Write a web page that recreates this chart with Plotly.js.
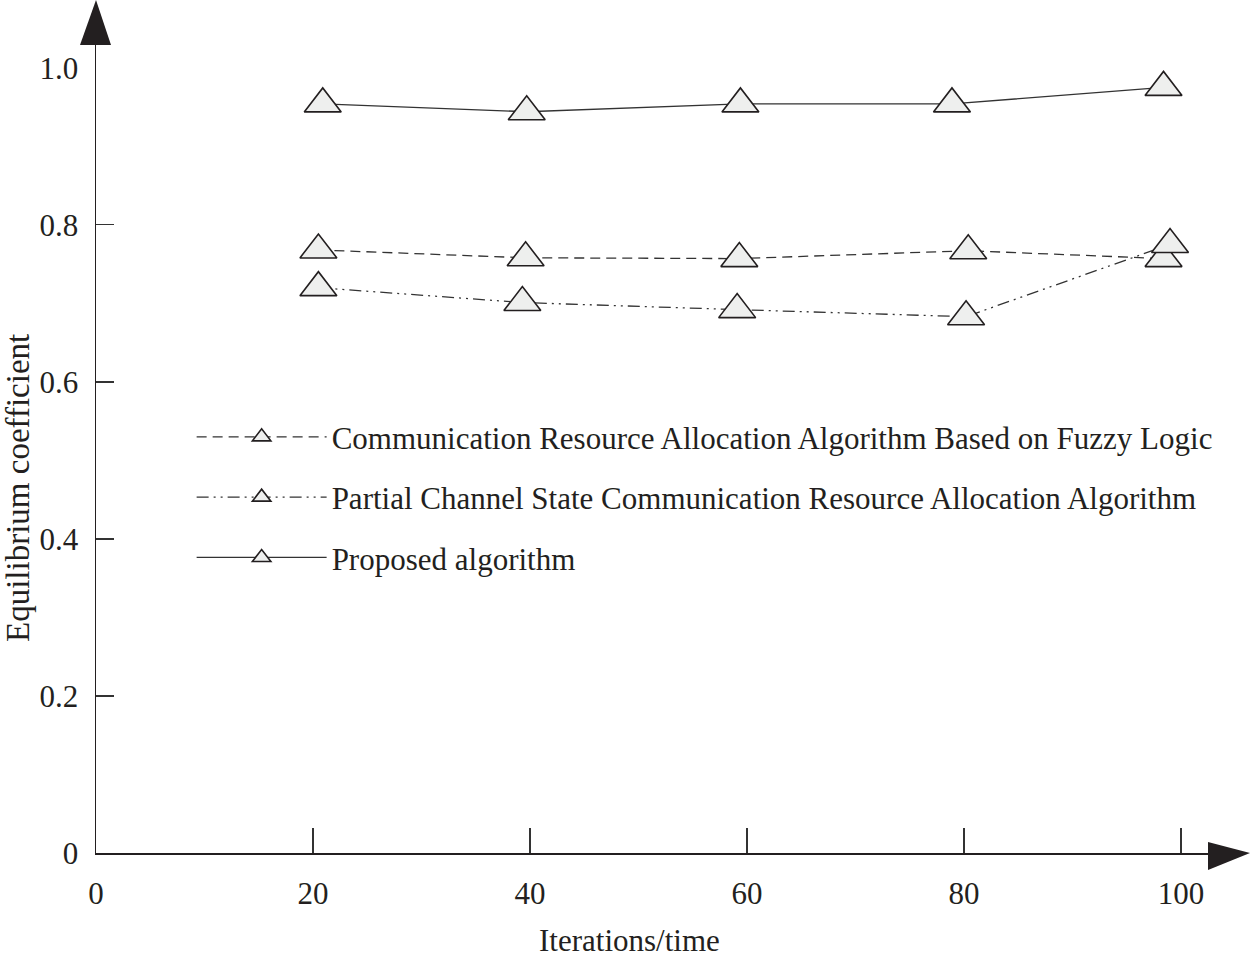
<!DOCTYPE html>
<html>
<head>
<meta charset="utf-8">
<script src="https://cdn.plot.ly/plotly-3.0.1.min.js"></script>
<style>html,body{margin:0;padding:0;background:#fff;}#chart{width:1250px;height:960px;}</style>
</head>
<body>
<div id="chart"></div>
<script>
// ---- data ----
var seriesNames = [
  "Communication Resource Allocation Algorithm Based on Fuzzy Logic",
  "Partial Channel State Communication Resource Allocation Algorithm",
  "Proposed algorithm"
];
var fuzzyX = [20.5, 39.6, 59.3, 80.4, 98.4];
var fuzzyY = [0.768, 0.758, 0.757, 0.767, 0.757];
var partialX = [20.5, 39.3, 59.1, 80.2, 99.0];
var partialY = [0.720, 0.701, 0.692, 0.683, 0.775];
var proposedX = [20.9, 39.7, 59.4, 78.9, 98.4];
var proposedY = [0.954, 0.944, 0.954, 0.954, 0.975];
var xTickVals = [0, 20, 40, 60, 80, 100];
var xTickText = ["0", "20", "40", "60", "80", "100"];
var yTickVals = [0, 0.2, 0.4, 0.6, 0.8, 1.0];
var yTickText = ["0", "0.2", "0.4", "0.6", "0.8", "1.0"];
var yTickMarks = [0.2, 0.4, 0.6, 0.8];
var xTitle = "Iterations/time";
var yTitle = "Equilibrium coefficient";

var FONT = "'Liberation Serif', 'Times New Roman', Times, serif";
var INK = "#231f20";
var marker = {symbol: "triangle-up", size: 32, color: "#eeefee", line: {color: INK, width: 1.6}};

function mk(name, x, y, dash, grp) {
  return {
    type: "scatter", mode: "lines+markers", name: name, x: x, y: y,
    legendgroup: grp,
    line: {color: "#333333", width: 1.3, dash: dash},
    marker: marker, cliponaxis: false
  };
}

var traces = [
  mk(seriesNames[0], fuzzyX, fuzzyY, "10px,6px", "a"),
  mk(seriesNames[1], partialX, partialY, "12px,5px,2px,5px,2px,5px", "b"),
  mk(seriesNames[2], proposedX, proposedY, "solid", "c")
];

var layout = {
  width: 1250, height: 960,
  margin: {l: 96, r: 42, t: 45, b: 107},
  paper_bgcolor: "#fff", plot_bgcolor: "#fff",
  font: {family: FONT, color: INK, size: 31},
  showlegend: true,
  legend: {
    x: 0.086, y: 0.548, xanchor: "left", yanchor: "top",
    bgcolor: "rgba(0,0,0,0)", borderwidth: 0,
    font: {family: FONT, size: 31, color: INK},
    traceorder: "grouped", tracegroupgap: 17, itemwidth: 130
  },
  xaxis: {
    range: [0, 102.5], showgrid: false, zeroline: false,
    showline: true, linecolor: INK, linewidth: 1.5,
    ticks: "inside", ticklen: 25, tickwidth: 1.3, tickcolor: "#333",
    tickvals: xTickVals, ticktext: xTickText,
    ticklabelstandoff: 12,
    tickfont: {family: FONT, size: 31, color: INK}
  },
  yaxis: {
    range: [0, 1.029], showgrid: false, zeroline: false,
    showline: true, linecolor: INK, linewidth: 1.5,
    ticks: "", tickvals: yTickVals, ticktext: yTickText,
    minor: {tickvals: yTickMarks, ticks: "inside", ticklen: 18, tickwidth: 1.3, tickcolor: "#333", showgrid: false},
    ticklabelstandoff: 10,
    tickfont: {family: FONT, size: 31, color: INK}
  },
  annotations: [
    {text: xTitle, xref: "paper", yref: "paper", x: (629 - 96) / 1112, y: -(940 - 853) / 808,
     xanchor: "center", yanchor: "middle", showarrow: false, font: {family: FONT, size: 31, color: INK}},
    {text: yTitle, xref: "paper", yref: "paper", x: -(96 - 18) / 1112, y: (853 - 488) / 808, textangle: -90,
     xanchor: "center", yanchor: "middle", showarrow: false, font: {family: FONT, size: 33, color: INK}}
  ],
  shapes: [
    // axis arrowheads (decoration)
    {type: "path", xref: "paper", yref: "paper", fillcolor: INK, line: {width: 0},
     path: "M 1 0.0136 L " + ((1250 - 96) / 1112) + " 0 L 1 -0.021 Z"},
    {type: "path", xref: "paper", yref: "paper", fillcolor: INK, line: {width: 0},
     path: "M " + (-16 / 1112) + " 1 L 0 " + (853 / 808) + " L " + (15 / 1112) + " 1 Z"}
  ]
};

Plotly.newPlot("chart", traces, layout, {displayModeBar: false, staticPlot: true});
</script>
</body>
</html>
